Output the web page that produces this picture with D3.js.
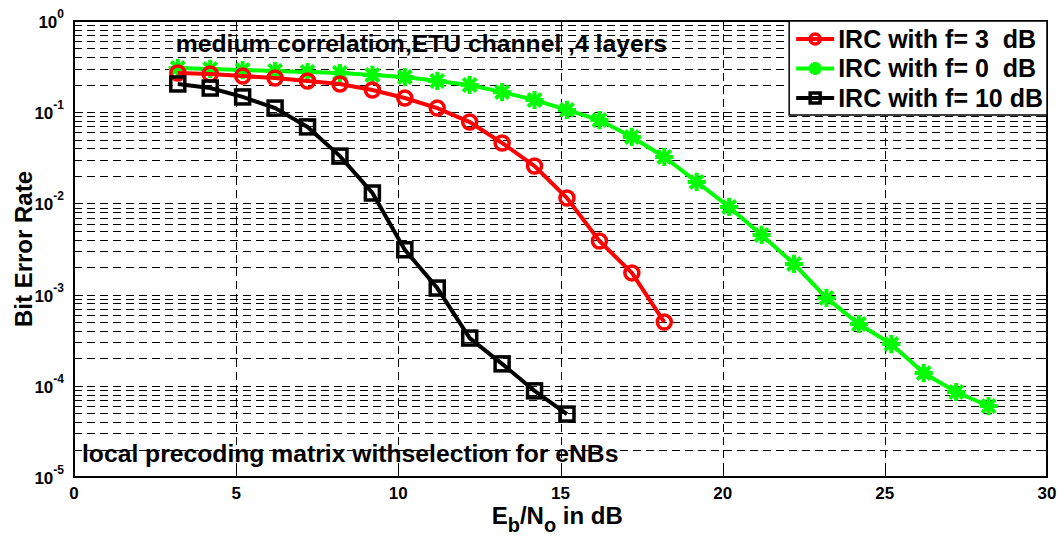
<!DOCTYPE html>
<html>
<head>
<meta charset="utf-8">
<script src="https://cdn.jsdelivr.net/npm/d3@7"></script>
<style>
  body { margin: 0; background: #fff; }
  text { font-family: "Liberation Sans", Arial, sans-serif; font-weight: bold; }
</style>
</head>
<body>
<div id="chart"></div>
<script>
// Eb/No points (dB)
var ebnoRed = [3.2, 4.2, 5.2, 6.2, 7.2, 8.2, 9.2, 10.2, 11.2, 12.2, 13.2, 14.2, 15.2, 16.2, 17.2, 18.2];
var berRed = [0.269, 0.262, 0.249, 0.237, 0.220, 0.204, 0.175, 0.143, 0.111, 0.078, 0.046, 0.0257, 0.01146, 0.00387, 0.00173, 0.00050];

var ebnoGreen = [3.2, 4.2, 5.2, 6.2, 7.2, 8.2, 9.2, 10.2, 11.2, 12.2, 13.2, 14.2, 15.2, 16.2, 17.2, 18.2, 19.2, 20.2, 21.2, 22.2, 23.2, 24.2, 25.2, 26.2, 27.2, 28.2];
var berGreen = [0.305, 0.298, 0.290, 0.283, 0.276, 0.269, 0.256, 0.243, 0.220, 0.199, 0.166, 0.136, 0.106, 0.082, 0.0535, 0.0323, 0.0172, 0.00914, 0.00451, 0.00217, 0.00092, 0.000476, 0.000287, 0.000138, 0.0000855, 0.000060];

var ebnoBlack = [3.2, 4.2, 5.2, 6.2, 7.2, 8.2, 9.2, 10.2, 11.2, 12.2, 13.2, 14.2, 15.2];
var berBlack = [0.204, 0.184, 0.147, 0.111, 0.069, 0.033, 0.013, 0.0031, 0.00118, 0.000334, 0.000174, 0.000088, 0.000049];

var legendLabels = ["IRC with f= 3\u00a0 dB", "IRC with f= 0\u00a0 dB", "IRC with f= 10 dB"];
var xTicks = [0, 5, 10, 15, 20, 25, 30];
var yExponents = [0, -1, -2, -3, -4, -5];

var W = 1057, H = 539;
var margin = { top: 21, right: 10, bottom: 62, left: 74 };
var width = W - margin.left - margin.right,
    height = H - margin.top - margin.bottom;

var svg = d3.select("#chart").append("svg")
    .attr("width", W)
    .attr("height", H);

var g = svg.append("g")
    .attr("transform", "translate(" + margin.left + "," + margin.top + ")");

var x = d3.scaleLinear().domain([0, 30]).range([0, width]);
var y = d3.scaleLog().domain([1e-5, 1]).range([height, 0]);

// grid (all decades, minor values included)
var gridVals = [];
for (var d = -5; d < 0; d++) {
    for (var k = 1; k <= 9; k++) gridVals.push(k * Math.pow(10, d));
}
g.append("g").selectAll("line").data(gridVals).enter().append("line")
    .attr("x1", 0).attr("x2", width)
    .attr("y1", function(v) { return Math.round(y(v)) + 0.5; })
    .attr("y2", function(v) { return Math.round(y(v)) + 0.5; })
    .attr("stroke", "#000").attr("stroke-width", 1)
    .attr("stroke-dasharray", "8,5");

g.append("g").selectAll("line").data(xTicks.slice(1, -1)).enter().append("line")
    .attr("x1", function(v) { return Math.round(x(v)) + 0.5; })
    .attr("x2", function(v) { return Math.round(x(v)) + 0.5; })
    .attr("y1", 0).attr("y2", height)
    .attr("stroke", "#000").attr("stroke-width", 1)
    .attr("stroke-dasharray", "8,5");

// ticks inside the box
var ticks = g.append("g").attr("stroke", "#000").attr("stroke-width", 1);
gridVals.forEach(function(v) {
    var yy = Math.round(y(v)) + 0.5;
    var len = (Math.abs(Math.log10(v) - Math.round(Math.log10(v))) < 1e-9) ? 9 : 5;
    ticks.append("line").attr("x1", 0).attr("x2", len).attr("y1", yy).attr("y2", yy);
    ticks.append("line").attr("x1", width).attr("x2", width - len).attr("y1", yy).attr("y2", yy);
});
xTicks.forEach(function(v) {
    var xx = Math.round(x(v)) + 0.5;
    ticks.append("line").attr("x1", xx).attr("x2", xx).attr("y1", height).attr("y2", height - 9);
    ticks.append("line").attr("x1", xx).attr("x2", xx).attr("y1", 0).attr("y2", 9);
});

// box
g.append("rect")
    .attr("x", 0).attr("y", 0)
    .attr("width", width).attr("height", height)
    .attr("fill", "none").attr("stroke", "#000").attr("stroke-width", 2);

// tick labels
g.append("g").selectAll("text").data(xTicks).enter().append("text")
    .attr("x", function(v) { return x(v); })
    .attr("y", height + 22)
    .attr("text-anchor", "middle")
    .attr("font-size", 17)
    .text(function(v) { return v; });

var yl = g.append("g").selectAll("text").data(yExponents).enter().append("text")
    .attr("x", -10)
    .attr("y", function(e) { return y(Math.pow(10, e)) + 7; })
    .attr("text-anchor", "end")
    .attr("font-size", 17);
yl.append("tspan").text("10");
yl.append("tspan").attr("dy", -10).attr("font-size", 12).text(function(e) { return e; });

// annotations
g.append("text")
    .attr("x", x(3.2) - 2).attr("y", 31)
    .attr("font-size", 24.7)
    .text("medium correlation,ETU channel ,4 layers");
g.append("text")
    .attr("x", 8).attr("y", 441)
    .attr("font-size", 24.7)
    .text("local precoding matrix withselection for eNBs");

// axis labels
svg.append("text")
    .attr("transform", "translate(32," + (margin.top + height / 2) + ") rotate(-90)")
    .attr("text-anchor", "middle")
    .attr("font-size", 24)
    .text("Bit Error Rate");

var xl = svg.append("text")
    .attr("x", margin.left + x(14.9))
    .attr("y", 524)
    .attr("text-anchor", "middle")
    .attr("font-size", 24);
xl.append("tspan").text("E");
xl.append("tspan").attr("dy", 8).attr("font-size", 20).text("b");
xl.append("tspan").attr("dy", -8).text("/N");
xl.append("tspan").attr("dy", 8).attr("font-size", 20).text("o");
xl.append("tspan").attr("dy", -8).text(" in dB");

// series
var line = d3.line()
    .x(function(d) { return x(d[0]); })
    .y(function(d) { return y(d[1]); });

var series = [
    { name: legendLabels[0], color: "#ff0000", marker: "circle", data: d3.zip(ebnoRed, berRed) },
    { name: legendLabels[1], color: "#00ff00", marker: "star", data: d3.zip(ebnoGreen, berGreen) },
    { name: legendLabels[2], color: "#000000", marker: "square", data: d3.zip(ebnoBlack, berBlack) }
];

function drawMarker(sel, type, color, s) {
    if (type === "circle") {
        sel.append("circle").attr("r", s * 0.5)
            .attr("fill", "none").attr("stroke", color).attr("stroke-width", 3.5);
    } else if (type === "square") {
        sel.append("rect").attr("x", -s / 2).attr("y", -s / 2)
            .attr("width", s).attr("height", s)
            .attr("fill", "none").attr("stroke", color).attr("stroke-width", 3.5);
    } else {
        var r = s * 0.65;
        var p = "M" + (-r) + ",0L" + r + ",0M0," + (-r) + "L0," + r +
            "M" + (-r * 0.72) + "," + (-r * 0.72) + "L" + (r * 0.72) + "," + (r * 0.72) +
            "M" + (-r * 0.72) + "," + (r * 0.72) + "L" + (r * 0.72) + "," + (-r * 0.72);
        sel.append("path").attr("d", p)
            .attr("stroke", color).attr("stroke-width", 4).attr("fill", "none");
    }
}

// draw in order: green, red, black (red over green)
[series[1], series[0], series[2]].forEach(function(s) {
    g.append("path").datum(s.data)
        .attr("d", line)
        .attr("fill", "none")
        .attr("stroke", s.color)
        .attr("stroke-width", 4);
    g.append("g").selectAll("g").data(s.data).enter().append("g")
        .attr("transform", function(d) { return "translate(" + x(d[0]) + "," + y(d[1]) + ")"; })
        .each(function() { drawMarker(d3.select(this), s.marker, s.color, 14); });
});

// legend
var leg = g.append("g").attr("transform", "translate(" + (x(22.05)) + ",0)");
leg.append("rect")
    .attr("x", 0).attr("y", 0)
    .attr("width", width - x(22.05)).attr("height", 94)
    .attr("fill", "#fff").attr("stroke", "#000").attr("stroke-width", 1.5);
series.forEach(function(s, i) {
    var row = leg.append("g").attr("transform", "translate(0," + (18 + i * 29.5) + ")");
    row.append("line").attr("x1", 7).attr("x2", 45).attr("y1", 0).attr("y2", 0)
        .attr("stroke", s.color).attr("stroke-width", 4);
    var m = row.append("g").attr("transform", "translate(26,0)");
    drawMarker(m, s.marker, s.color, 10);
    row.append("text").attr("x", 49).attr("y", 8.5)
        .attr("font-size", 25)
        .text(s.name);
});
</script>
</body>
</html>
